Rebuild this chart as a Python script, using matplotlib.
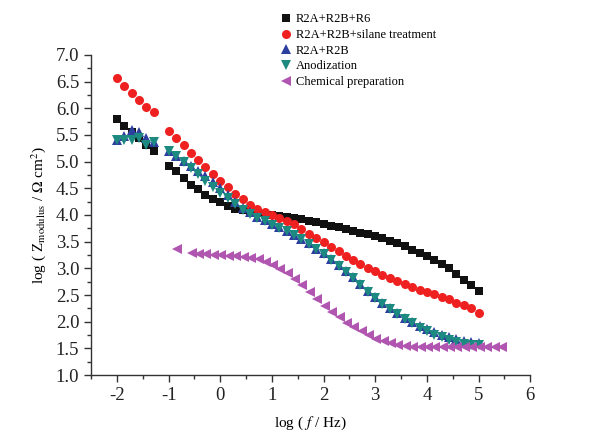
import matplotlib
matplotlib.use("Agg")
import matplotlib.pyplot as plt
from matplotlib.ticker import MultipleLocator, FormatStrFormatter

# log(f/Hz) grid shared by the first four samples
LOGF = [-2.00, -1.86, -1.71, -1.57, -1.43, -1.29,
        -1.00, -0.86, -0.71, -0.57, -0.43, -0.29, -0.14, 0.00, 0.14, 0.29,
        0.43, 0.57, 0.71, 0.86, 1.00, 1.14, 1.29, 1.43, 1.57, 1.71, 1.86,
        2.00, 2.14, 2.29, 2.43, 2.57, 2.71, 2.86, 3.00, 3.14, 3.29, 3.43,
        3.57, 3.71, 3.86, 4.00, 4.14, 4.29, 4.43, 4.57, 4.71, 4.86, 5.00]

R6 = [5.79, 5.67, 5.56, 5.44, 5.32, 5.19,
      4.92, 4.82, 4.70, 4.57, 4.48, 4.37, 4.30, 4.24, 4.17, 4.12, 4.09,
      4.06, 4.04, 4.02, 4.00, 3.98, 3.96, 3.94, 3.92, 3.89, 3.86, 3.83,
      3.80, 3.77, 3.73, 3.70, 3.67, 3.64, 3.60, 3.56, 3.52, 3.47, 3.42,
      3.35, 3.29, 3.23, 3.15, 3.08, 3.00, 2.89, 2.78, 2.69, 2.58]

SILANE = [6.56, 6.42, 6.29, 6.16, 6.02, 5.92,
          5.58, 5.44, 5.31, 5.17, 5.03, 4.90, 4.77, 4.64, 4.52, 4.39, 4.29,
          4.19, 4.12, 4.05, 4.00, 3.94, 3.89, 3.83, 3.74, 3.65, 3.57, 3.49,
          3.40, 3.32, 3.24, 3.16, 3.08, 3.01, 2.95, 2.88, 2.82, 2.77, 2.70,
          2.65, 2.60, 2.56, 2.52, 2.47, 2.42, 2.36, 2.31, 2.25, 2.17]

R2AB = [5.40, 5.48, 5.59, 5.55, 5.45, 5.37,
        5.19, 5.11, 5.02, 4.92, 4.82, 4.73, 4.62, 4.50, 4.37, 4.25, 4.14,
        4.06, 3.97, 3.90, 3.84, 3.77, 3.70, 3.62, 3.55, 3.47, 3.37, 3.28,
        3.17, 3.06, 2.95, 2.83, 2.70, 2.58, 2.47, 2.36, 2.25, 2.16, 2.07,
        1.99, 1.92, 1.86, 1.80, 1.75, 1.71, 1.67, 1.64, 1.62, 1.60]

ANOD = [5.40, 5.41, 5.41, 5.45, 5.32, 5.36,
        5.20, 5.10, 5.00, 4.88, 4.76, 4.64, 4.53, 4.42, 4.31, 4.20, 4.10,
        4.02, 3.95, 3.88, 3.82, 3.76, 3.70, 3.63, 3.55, 3.46, 3.36, 3.27,
        3.16, 3.05, 2.93, 2.81, 2.68, 2.56, 2.45, 2.34, 2.23, 2.14, 2.05,
        1.97, 1.89, 1.82, 1.76, 1.71, 1.66, 1.62, 1.59, 1.57, 1.56]

LOGF_CHEM = [-0.84, -0.55, -0.41, -0.27, -0.12, 0.02, 0.16, 0.31, 0.45,
             0.59, 0.74, 0.88, 1.02, 1.16, 1.31, 1.45, 1.59, 1.74, 1.88,
             2.02, 2.16, 2.31, 2.45, 2.59, 2.74, 2.88, 3.02, 3.16, 3.31,
             3.45, 3.59, 3.74, 3.88, 4.02, 4.16, 4.31, 4.45, 4.59, 4.74,
             4.88, 5.02, 5.16, 5.31, 5.45]
CHEM = [3.36, 3.28, 3.27, 3.26, 3.25, 3.25, 3.24, 3.23, 3.22, 3.20, 3.17,
        3.12, 3.06, 2.99, 2.91, 2.80, 2.68, 2.55, 2.42, 2.29, 2.18, 2.08,
        1.98, 1.90, 1.82, 1.75, 1.68, 1.64, 1.60, 1.57, 1.55, 1.53, 1.53,
        1.52, 1.52, 1.52, 1.52, 1.52, 1.52, 1.52, 1.52, 1.52, 1.52, 1.52]

SERIES = [
    ("R2A+R2B+R6", LOGF, R6, "s", "#111111", 5.5),
    ("R2A+R2B+silane treatment", LOGF, SILANE, "o", "#ee2020", 6.5),
    ("R2A+R2B", LOGF, R2AB, "^", "#2d3f9e", 6.5),
    ("Anodization", LOGF, ANOD, "v", "#1c8a80", 6.5),
    ("Chemical preparation", LOGF_CHEM, CHEM, "<", "#b055b0", 6.5),
]

plt.rcParams["font.family"] = ["Liberation Serif", "DejaVu Serif"]
plt.rcParams["mathtext.fontset"] = "stix"
plt.rcParams["axes.unicode_minus"] = False

fig = plt.figure(figsize=(6.08, 4.46), dpi=100)
ax = fig.add_axes([0.150, 0.159, 0.722, 0.718])

for label, x, y, mk, col, ms in SERIES:
    ax.plot(x, y, linestyle="none", marker=mk, color=col, markersize=ms,
            markeredgewidth=0, label=label)

ax.set_xlim(-2.5, 6)
ax.set_ylim(1.0, 7.0)
ax.xaxis.set_major_locator(MultipleLocator(1))
ax.xaxis.set_minor_locator(MultipleLocator(0.5))
ax.yaxis.set_major_locator(MultipleLocator(0.5))
ax.yaxis.set_minor_locator(MultipleLocator(0.25))
ax.yaxis.set_major_formatter(FormatStrFormatter("%.1f"))
ax.set_xticks([-2, -1, 0, 1, 2, 3, 4, 5, 6])

for s in ["top", "right"]:
    ax.spines[s].set_visible(False)
for s in ["left", "bottom"]:
    ax.spines[s].set_color("#333333")
    ax.spines[s].set_linewidth(1.0)
ax.tick_params(which="major", direction="out", length=5, width=1.0,
               color="#333333", labelsize=13.5, labelcolor="#222222")
ax.tick_params(which="minor", direction="out", length=3, width=1.0,
               color="#333333")

ax.set_xlabel(r"log ( $f$ / Hz)", fontsize=11, labelpad=8)
ax.set_ylabel(r"log ( Z$_{\rm modulus}$ / $\Omega$ cm$^{2}$)", fontsize=11,
              labelpad=6)

ax.legend(loc="upper left", bbox_to_anchor=(0.445, 0.99),
          bbox_transform=fig.transFigure, frameon=False, fontsize=9,
          handlelength=1.0, handletextpad=0.3, labelspacing=0.3,
          borderaxespad=0.3)

fig.savefig("out.png", dpi=100, facecolor="white")
